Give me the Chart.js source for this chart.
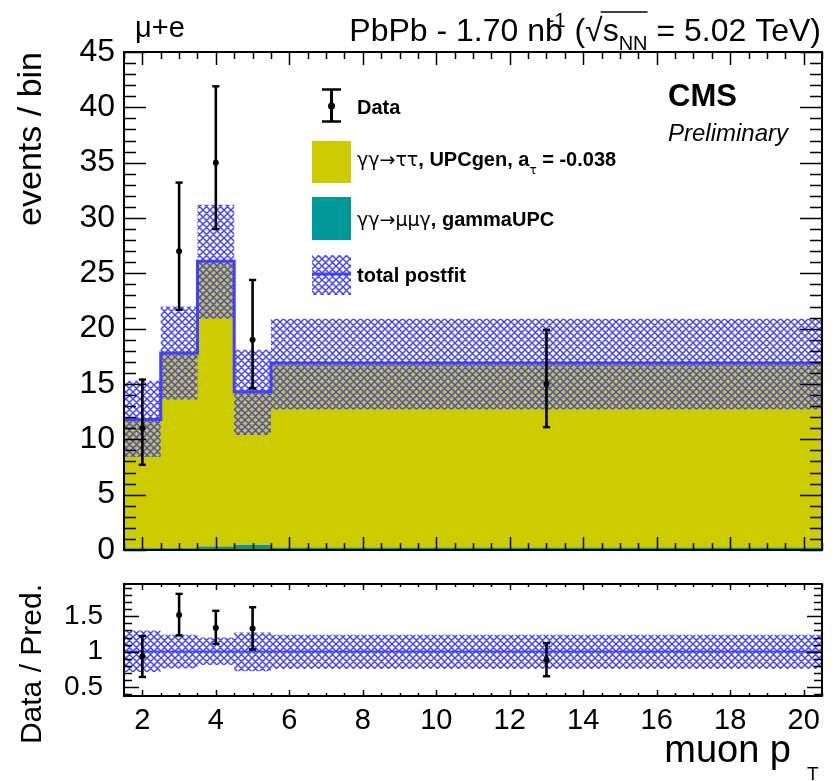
<!DOCTYPE html>
<html>
<head>
<meta charset="utf-8">
<script src="https://cdn.jsdelivr.net/npm/chart.js@4.4.1/dist/chart.umd.min.js"></script>
<style>
html,body{margin:0;padding:0;background:#fff;}
#wrap{position:relative;width:836px;height:781px;background:#fff;}
canvas{position:absolute;left:0;}
#main{top:0;}
#ratio{top:560px;}
</style>
</head>
<body>
<div id="wrap">
<canvas id="main" width="836" height="560"></canvas>
<canvas id="ratio" width="836" height="221"></canvas>
</div>
<script>
// ---------------- data ----------------
const binEdges = [1.5, 2.5, 3.5, 4.5, 5.5, 20.5];
const binCenters = [2, 3, 4, 5, 13];
const dataCounts = [11, 27, 35, 19, 15];
const dataErrHigh = [15.4, 33.2, 41.9, 24.4, 19.9];
const dataErrLow = [7.7, 21.7, 29.0, 14.6, 11.1];
const mumugammaGammaUPC = [0.15, 0.15, 0.3, 0.45, 0.2];
const tautauUPCgen = [11.65, 17.65, 25.8, 13.85, 16.7];
const totalPostfit = [11.8, 17.8, 26.1, 14.3, 16.9];
const totalBandHigh = [15.3, 22.0, 31.2, 18.1, 20.9];
const totalBandLow = [8.4, 13.6, 20.9, 10.4, 12.7];
const ratioValues = [0.93, 1.52, 1.34, 1.33, 0.885];
const ratioErrHigh = [1.22, 1.82, 1.58, 1.63, 1.12];
const ratioErrLow = [0.64, 1.23, 1.11, 1.03, 0.65];
const ratioBandHigh = [1.30, 1.24, 1.20, 1.27, 1.24];
const ratioBandLow = [0.71, 0.76, 0.81, 0.72, 0.755];
const ratioUnity = [1, 1];
const mainYTicks = [0, 5, 10, 15, 20, 25, 30, 35, 40, 45];
const ratioYTicks = [0.5, 1, 1.5];
const xTicks = [2, 4, 6, 8, 10, 12, 14, 16, 18, 20];

// ---------------- style ----------------
const FONT = '"Liberation Sans", Arial, Helvetica, sans-serif';
const SYM = '"DejaVu Sans", sans-serif';
Chart.defaults.font.family = FONT;
Chart.defaults.color = '#000';
const YELLOW = 'rgb(204,204,0)';
const TEAL = 'rgb(0,153,153)';
const BLUE = 'rgb(64,64,255)';
const HATCH = 'rgb(70,70,255)';

const mainCanvas = document.getElementById('main');
const ratioCanvas = document.getElementById('ratio');

function makeHatch(canvas, color) {
  const n = 7;
  const tile = document.createElement('canvas');
  tile.width = n; tile.height = n;
  const g = tile.getContext('2d');
  g.strokeStyle = color; g.lineWidth = 1.5;
  g.beginPath();
  for (let k = -1; k <= 1; k++) {
    g.moveTo(k * n - 1, -1); g.lineTo(k * n + n + 1, n + 1);
    g.moveTo(k * n + n + 1, -1); g.lineTo(k * n - 1, n + 1);
  }
  g.stroke();
  return canvas.getContext('2d').createPattern(tile, 'repeat');
}
const hatchMain = makeHatch(mainCanvas, HATCH);
const hatchRatio = makeHatch(ratioCanvas, HATCH);

const step = vals => binEdges.map((e, i) => ({x: e, y: vals[Math.min(i, vals.length - 1)]}));
const pts = vals => binCenters.map((c, i) => ({x: c, y: vals[i]}));
const edgeLine = vals => [{x: binEdges[0], y: vals[0]}, {x: binEdges[binEdges.length - 1], y: vals[1]}];

function errorBars(lo, hi, prefix) {
  return binCenters.map((c, i) => ({
    data: [{x: c, y: lo[i]}, {x: c, y: hi[i]}],
    borderColor: '#000', borderWidth: 2.6, fill: false,
    pointStyle: 'line', pointRadius: 3.6, pointBorderWidth: 2.4,
    pointBorderColor: '#000', pointBackgroundColor: '#000',
    order: 0, stack: prefix + i
  }));
}

function framePlugin(id, cfg) {
  return {
    id: id,
    afterDatasetsDraw(chart) {
      const {ctx, chartArea: a, scales: {x, y}} = chart;
      ctx.save();
      ctx.strokeStyle = '#000';
      ctx.lineWidth = 1.5;
      ctx.beginPath();
      const eps = 1e-6;
      for (let i = Math.ceil(x.min / cfg.xMinor - eps); i * cfg.xMinor <= x.max + eps; i++) {
        const v = i * cfg.xMinor;
        const px = Math.round(x.getPixelForValue(v)) + 0.5;
        const major = Math.abs(v / cfg.xMajor - Math.round(v / cfg.xMajor)) < eps;
        const len = major ? cfg.xMajorLen : cfg.xMinorLen;
        ctx.moveTo(px, a.bottom); ctx.lineTo(px, a.bottom - len);
        ctx.moveTo(px, a.top); ctx.lineTo(px, a.top + len);
      }
      for (let i = Math.ceil(y.min / cfg.yMinor - eps); i * cfg.yMinor <= y.max + eps; i++) {
        const v = i * cfg.yMinor;
        const py = Math.round(y.getPixelForValue(v)) + 0.5;
        const major = Math.abs(v / cfg.yMajor - Math.round(v / cfg.yMajor)) < eps;
        const len = major ? cfg.yMajorLen : cfg.yMinorLen;
        ctx.moveTo(a.left, py); ctx.lineTo(a.left + len, py);
        ctx.moveTo(a.right, py); ctx.lineTo(a.right - len, py);
      }
      ctx.stroke();
      ctx.lineWidth = 2;
      ctx.strokeRect(a.left, a.top, a.right - a.left, a.bottom - a.top);
      ctx.restore();
    }
  };
}

function runs(ctx, list, x, base) {
  for (const r of list) {
    ctx.font = r.f;
    ctx.fillText(r.t, x + (r.dx || 0), base + (r.dy || 0));
    x += ctx.measureText(r.t).width + (r.dx || 0);
  }
  return x;
}

const annotationPlugin = {
  id: 'annotations',
  afterDraw(chart) {
    const ctx = chart.ctx;
    ctx.save();
    ctx.fillStyle = '#000';
    ctx.textBaseline = 'alphabetic';
    ctx.textAlign = 'left';
    // channel label
    ctx.font = '29px ' + FONT;
    ctx.fillText('\u03BC+e', 135, 37);
    // header (right aligned)
    const big = '32px ' + FONT, small = '20px ' + FONT;
    const base = 41;
    const header = [
      {t: 'PbPb - 1.70 nb', f: big},
      {t: '-1', f: small, dy: -14, dx: -15},
      {t: ' (', f: big},
      {t: '\u221A', f: big},
      {t: 's', f: big},
      {t: 'NN', f: small, dy: 9},
      {t: ' = 5.02 TeV)', f: big}
    ];
    let w = 0;
    for (const r of header) { ctx.font = r.f; w += ctx.measureText(r.t).width + (r.dx || 0); }
    let x = 821 - w;
    let sqrtEnd = 0, nnEnd = 0;
    for (const r of header) {
      ctx.font = r.f;
      ctx.fillText(r.t, x + (r.dx || 0), base + (r.dy || 0));
      x += ctx.measureText(r.t).width + (r.dx || 0);
      if (r.t === '\u221A') sqrtEnd = x;
      if (r.t === 'NN') nnEnd = x;
    }
    ctx.strokeStyle = '#000'; ctx.lineWidth = 1.5;
    ctx.beginPath(); ctx.moveTo(sqrtEnd - 2, 12); ctx.lineTo(nnEnd, 12); ctx.stroke();

    // CMS Preliminary
    ctx.font = 'bold 31px ' + FONT;
    ctx.fillText('CMS', 668, 106);
    ctx.font = 'italic 24px ' + FONT;
    ctx.fillText('Preliminary', 668, 141);

    // legend: Data
    ctx.strokeStyle = '#000';
    ctx.lineWidth = 3;
    ctx.beginPath(); ctx.moveTo(331.5, 89); ctx.lineTo(331.5, 122); ctx.stroke();
    ctx.lineWidth = 2.5;
    ctx.beginPath();
    ctx.moveTo(322, 89.5); ctx.lineTo(341, 89.5);
    ctx.moveTo(322, 121.5); ctx.lineTo(341, 121.5);
    ctx.stroke();
    ctx.beginPath(); ctx.arc(331.5, 106, 3.5, 0, Math.PI * 2); ctx.fill();
    ctx.font = 'bold 20px ' + FONT;
    ctx.fillText('Data', 357, 113.5);

    // legend: tautau
    ctx.fillStyle = YELLOW;
    ctx.fillRect(312, 141, 39, 42);
    ctx.fillStyle = '#000';
    const reg = '19px ' + SYM, bold = 'bold 20px ' + FONT, sub = '12px ' + SYM;
    runs(ctx, [
      {t: '\u03B3\u03B3\u2192\u03C4\u03C4', f: reg},
      {t: ', UPCgen, a', f: bold},
      {t: '\u03C4', f: sub, dy: 8},
      {t: ' = -0.038', f: bold}
    ], 357, 165.5);

    // legend: mumugamma
    ctx.fillStyle = TEAL;
    ctx.fillRect(312, 197, 39, 43);
    ctx.fillStyle = '#000';
    runs(ctx, [
      {t: '\u03B3\u03B3\u2192\u03BC\u03BC\u03B3', f: reg},
      {t: ', gammaUPC', f: bold}
    ], 357, 225.5);

    // legend: total postfit
    ctx.fillStyle = hatchMain;
    ctx.fillRect(312, 255, 39, 40);
    ctx.strokeStyle = BLUE; ctx.lineWidth = 3;
    ctx.beginPath(); ctx.moveTo(312, 274); ctx.lineTo(351, 274); ctx.stroke();
    ctx.fillStyle = '#000';
    ctx.font = bold;
    ctx.fillText('total postfit', 357, 282);
    ctx.restore();
  }
};

const ratioTextPlugin = {
  id: 'ratioText',
  afterDraw(chart) {
    const ctx = chart.ctx;
    ctx.save();
    ctx.fillStyle = '#000';
    ctx.textBaseline = 'alphabetic';
    ctx.textAlign = 'right';
    ctx.font = '38px ' + FONT;
    ctx.fillText('muon p', 791, 202);
    ctx.textAlign = 'left';
    ctx.font = '19px ' + FONT;
    ctx.fillText('T', 807, 220);
    ctx.restore();
  }
};

const common = {
  responsive: false,
  animation: false,
  events: [],
  plugins: {legend: {display: false}, tooltip: {enabled: false}},
  elements: {line: {tension: 0}, point: {radius: 0}}
};

// ---------------- main panel ----------------
new Chart(mainCanvas, {
  type: 'line',
  data: {
    datasets: [
      { // 0 gamma gamma -> mu mu gamma
        data: step(mumugammaGammaUPC), stepped: true, stack: 'mc', order: 4,
        fill: 'origin', backgroundColor: TEAL, borderWidth: 0, borderColor: 'transparent', pointRadius: 0
      },
      { // 1 gamma gamma -> tau tau
        data: step(tautauUPCgen), stepped: true, stack: 'mc', order: 5,
        fill: 'origin', backgroundColor: YELLOW, borderWidth: 0, borderColor: 'transparent', pointRadius: 0
      },
      { // 2 band high
        data: step(totalBandHigh), stepped: true, stack: 'bandHigh', order: 2,
        fill: 3, backgroundColor: hatchMain, borderWidth: 0, borderColor: 'transparent', pointRadius: 0
      },
      { // 3 band low
        data: step(totalBandLow), stepped: true, stack: 'bandLow', order: 3,
        fill: false, borderWidth: 0, borderColor: 'transparent', pointRadius: 0
      },
      { // 4 total postfit
        data: step(totalPostfit), stepped: true, stack: 'total', order: 1,
        fill: false, borderColor: BLUE, borderWidth: 3, pointRadius: 0
      },
      { // 5 data
        data: pts(dataCounts), showLine: false, stack: 'data', order: 0,
        pointRadius: 3, pointStyle: 'circle', pointBackgroundColor: '#000', pointBorderWidth: 0
      },
      ...errorBars(dataErrLow, dataErrHigh, 'err')
    ]
  },
  options: {
    ...common,
    layout: {padding: {left: 0, right: 14, top: 52, bottom: 10}},
    scales: {
      x: {type: 'linear', min: binEdges[0], max: binEdges[binEdges.length - 1], display: false},
      y: {
        type: 'linear', min: 0, max: 45, stacked: true,
        afterBuildTicks: s => { s.ticks = mainYTicks.map(v => ({value: v})); },
        afterFit: s => { s.width = 124; },
        ticks: {font: {size: 32, lineHeight: 0.0625}, padding: 9, callback: v => String(v)},
        grid: {display: false, drawTicks: false},
        border: {display: false},
        title: {display: true, text: 'events / bin', align: 'end', font: {size: 34, lineHeight: 1}, padding: {top: 15, bottom: 0}}
      }
    }
  },
  plugins: [framePlugin('frameMain', {xMinor: 0.5, xMajor: 2, xMajorLen: 13, xMinorLen: 7, yMinor: 1, yMajor: 5, yMajorLen: 22, yMinorLen: 12}), annotationPlugin]
});

// ---------------- ratio panel ----------------
new Chart(ratioCanvas, {
  type: 'line',
  data: {
    datasets: [
      { // 0 band high
        data: step(ratioBandHigh), stepped: true, order: 3,
        fill: 1, backgroundColor: hatchRatio, borderWidth: 0, borderColor: 'transparent', pointRadius: 0
      },
      { // 1 band low
        data: step(ratioBandLow), stepped: true, order: 4,
        fill: false, borderWidth: 0, borderColor: 'transparent', pointRadius: 0
      },
      { // 2 unity
        data: edgeLine(ratioUnity), order: 2, fill: false, borderColor: BLUE, borderWidth: 2, pointRadius: 0
      },
      { // 3 ratio points
        data: pts(ratioValues), showLine: false, order: 0,
        pointRadius: 3, pointStyle: 'circle', pointBackgroundColor: '#000', pointBorderWidth: 0
      },
      ...errorBars(ratioErrLow, ratioErrHigh, 'rerr')
    ]
  },
  options: {
    ...common,
    layout: {padding: {left: 0, right: 14, top: 24, bottom: 0}},
    scales: {
      x: {
        type: 'linear', min: binEdges[0], max: binEdges[binEdges.length - 1],
        afterBuildTicks: s => { s.ticks = xTicks.map(v => ({value: v})); },
        afterFit: s => { s.height = 85; },
        ticks: {font: {size: 29}, padding: 8, maxRotation: 0, autoSkip: false, callback: v => String(v)},
        grid: {display: false, drawTicks: false},
        border: {display: false}
      },
      y: {
        type: 'linear', min: 0.37, max: 1.96,
        afterBuildTicks: s => { s.ticks = ratioYTicks.map(v => ({value: v})); },
        afterFit: s => { s.width = 124; },
        ticks: {font: {size: 28, lineHeight: 0.05}, padding: 21, callback: v => String(v)},
        grid: {display: false, drawTicks: false},
        border: {display: false},
        title: {display: true, text: 'Data / Pred.', align: 'end', font: {size: 30, lineHeight: 1}, padding: {top: 17.5, bottom: 0}}
      }
    }
  },
  plugins: [framePlugin('frameRatio', {xMinor: 0.5, xMajor: 2, xMajorLen: 6, xMinorLen: 3, yMinor: 0.1, yMajor: 0.5, yMajorLen: 15, yMinorLen: 8}), ratioTextPlugin]
});
</script>
</body>
</html>
